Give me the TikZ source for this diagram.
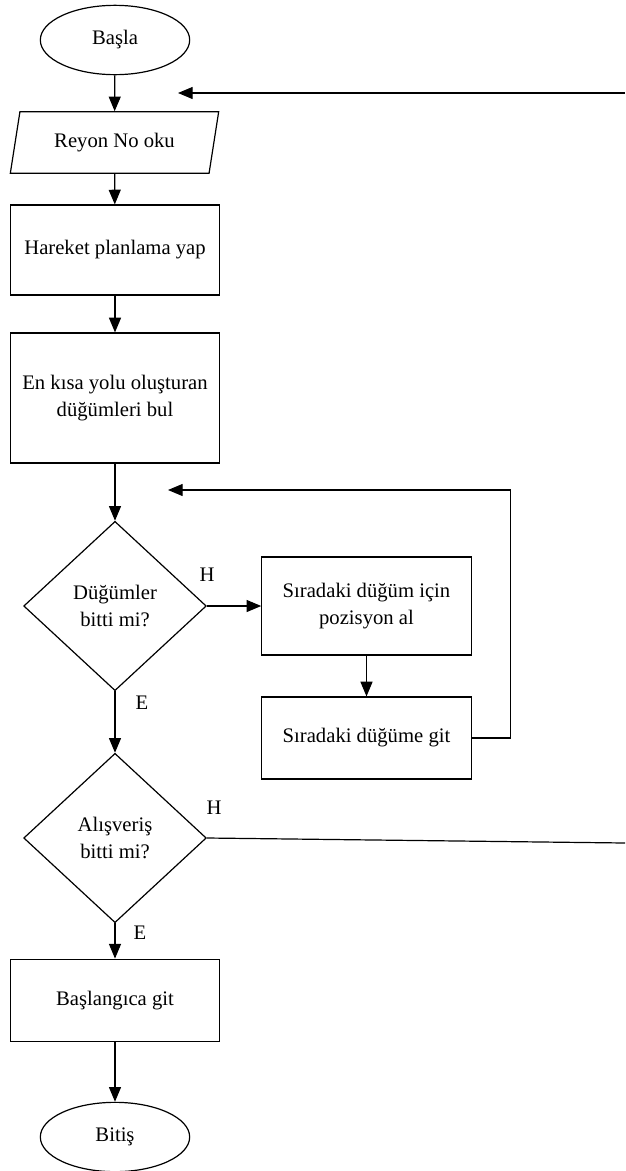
\documentclass[tikz,border=0pt]{standalone}
\usepackage{fontspec}
\setmainfont{Liberation Serif}
\usetikzlibrary{shapes.geometric, arrows.meta, positioning, calc}

\begin{document}
\begin{tikzpicture}[x=0.75pt, y=-0.75pt,
    every node/.style={font=\fontsize{15.5}{20}\selectfont},
    terminal/.style={draw, ellipse, line width=0.9pt, minimum width=112pt, minimum height=52pt, inner sep=0pt},
    inputbox/.style={draw, trapezium, trapezium left angle=72, trapezium right angle=108, trapezium stretches=true, line width=0.9pt, minimum width=157pt, minimum height=46pt, inner sep=0pt},
    process/.style={draw, rectangle, line width=0.9pt, minimum width=157pt, align=center, inner sep=0pt},
    decision/.style={draw, diamond, line width=0.9pt, minimum width=137pt, minimum height=127pt, align=center, inner sep=0pt},
    arrow/.style={line width=0.9pt, -{Triangle[length=11pt, width=9pt]}},
    line/.style={line width=0.9pt}]
    \useasboundingbox (0,0) rectangle (625,1171);

    % Main column
    \node[terminal] (start) at (115,40) {Başla};
    \node[inputbox] (reyon) at (114.5,142.5) {Reyon No oku};
    \node[process, minimum height=67.5pt] (plan) at (115,250) {Hareket planlama yap};
    \node[process, minimum height=97.5pt] (path) at (115,398) {En kısa yolu oluşturan\\düğümleri bul};
    \node[decision] (dec1) at (115,606) {Düğümler\\bitti mi?};
    \node[decision] (dec2) at (115,838) {Alışveriş\\bitti mi?};
    \node[process, minimum height=62pt] (home) at (115,1000.5) {Başlangıca git};
    \node[terminal] (stop) at (115,1137) {Bitiş};

    % Side column
    \node[process, minimum height=73.5pt] (pose) at (366.5,606) {Sıradaki düğüm için\\pozisyon al};
    \node[process, minimum height=61.5pt] (goto) at (366.5,738) {Sıradaki düğüme git};

    % Labels
    \node (h1) at (207,575) {H};
    \node (e1) at (142,703) {E};
    \node (h2) at (214,808) {H};
    \node (e2) at (140,933) {E};

    % Free ends
    \coordinate (edge1) at (625,93);
    \coordinate (ret1) at (178,93);
    \coordinate (ret2) at (168,490);
    \coordinate (edge2) at (625,843);

    % Connectors
    \draw[arrow] (start) -- (reyon);
    \draw[arrow] (reyon) -- (plan);
    \draw[arrow] (plan) -- (path);
    \draw[arrow] (path) -- (dec1);
    \draw[arrow] (dec1) -- (dec2);
    \draw[arrow] (dec2) -- (home);
    \draw[arrow] (home) -- (stop);
    \draw[arrow] (dec1.east) -- (pose.west);
    \draw[arrow] (pose) -- (goto);
    \draw[arrow] (goto.east) -- ++(39,0) |- (ret2);
    \draw[arrow] (edge1) -- (ret1);
    \draw[line] (dec2.east) -- (edge2);
\end{tikzpicture}
\end{document}
